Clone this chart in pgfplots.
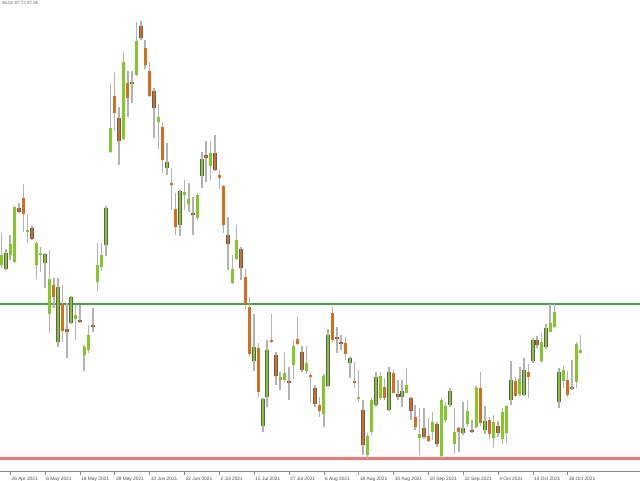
\documentclass[border=0pt]{standalone}
\usepackage{pgfplots}
\pgfplotsset{compat=1.18}
\usepackage{pgfplotstable}
\usepackage{fontspec}
\setmainfont{Liberation Sans}
\definecolor{bull}{RGB}{130,200,40}
\definecolor{bear}{RGB}{214,110,30}
\definecolor{wickc}{RGB}{178,178,178}
\definecolor{edgec}{RGB}{95,95,95}
\definecolor{levelg}{RGB}{60,170,60}
\definecolor{levelr}{RGB}{250,115,115}
% k open high low close  (bullish candles)
\pgfplotstableread{
k o h l c
0 215 247 212 225
1 211 231 210 227
2 225 245 220 236
3 218 274 217 273
6 248 266 237 250
8 215 239 201 237
9 225 233 208 227
10 217 227 192 226
11 166 230 147 201
13 138 202 133 193
16 157 184 156 183
17 161 175 140 165
19 125 135 109 133
20 130 155 127 145
22 198 237 189 215
23 213 237 209 225
24 235 274 224 272
25 328 396 327 352
28 341 428 340 418
30 396 409 377 398
31 405 458 404 439
36 358 376 331 363
38 312 337 305 318
41 255 290 244 289
42 285 300 270 288
43 276 297 268 281
45 262 287 260 285
46 304 328 292 321
48 314 339 300 327
53 197 225 196 211
54 221 255 220 240
58 119 166 109 133
60 54 82 48 81
61 83 140 73 130
64 100 108 90 103
65 100 128 98 107
67 115 140 101 134
70 109 134 106 117
74 66 106 53 104
75 94 151 93 145
80 117 123 102 122
82 81 110 78 83
84 25 47 21 44
85 48 82 45 80
86 75 108 73 103
87 82 108 80 104
89 70 113 69 108
92 83 100 73 89
93 87 112 87 95
96 42 72 25 46
99 48 68 40 58
101 24 82 23 80
102 60 78 58 74
103 75 92 73 89
104 36 72 26 48
106 47 78 45 52
107 56 80 53 69
109 53 94 52 92
111 50 74 46 59
113 42 65 33 58
115 41 72 36 68
116 47 75 37 74
117 80 119 75 100
119 86 113 84 101
120 85 122 84 110
122 119 142 117 140
124 119 147 117 138
125 133 156 131 152
126 148 176 148 157
127 153 177 152 168
128 78 112 72 108
129 99 114 92 110
131 91 120 90 93
132 98 138 92 136
133 127 145 127 130
}\bulls
% k open high low close  (bearish candles)
\pgfplotstableread{
k o h l c
4 272 277 267 268
5 282 296 248 266
7 252 254 240 241
12 195 202 172 183
14 176 195 138 149
15 151 177 122 148
18 160 175 157 158
21 155 172 148 153
26 384 407 350 367
27 362 373 315 339
29 397 409 363 382
32 454 459 440 442
33 432 440 411 415
34 409 418 383 384
35 389 392 342 372
37 353 358 307 320
39 297 312 270 295
40 271 287 245 253
44 267 283 245 265
47 325 339 298 322
49 327 345 309 310
50 305 310 291 302
51 294 295 247 255
52 245 263 210 236
55 231 233 200 212
56 203 211 171 175
57 173 183 124 126
59 132 137 83 88
62 140 166 137 138
63 125 128 95 104
66 99 113 80 97
68 141 163 135 136
69 128 134 108 110
71 105 107 77 103
72 92 95 73 76
73 75 83 63 69
76 167 173 138 140
77 143 153 127 141
78 138 145 130 136
79 137 143 120 126
81 99 118 92 97
83 70 80 25 35
88 93 102 80 82
90 107 110 87 87.5
91 86 100 80 83
94 82 83 60 69
95 63 75 50 53
97 52 72 41 43
98 44 62 38 39
100 56 58 33 36
105 52 53 28 48
108 50 60 47 48
110 92 108 54 57
112 60 63 41 46
114 54 59 43 47
118 99 103 83 84
121 108 116 82 103
123 140 144 132 135
130 100 109 83 85
}\bears
\pgfplotstableread{
x y
-1 176.5
147 176.5
}\levelgreen
\pgfplotstableread{
x y
-1 21.5
147 21.5
}\levelred
\begin{document}
\begin{tikzpicture}[x=1pt,y=1pt]
\path[use as bounding box] (0,0) rectangle (640,480);
\begin{axis}[
  at={(0pt,8.5pt)}, anchor=south west,
  scale only axis, width=640pt, height=471.5pt,
  xmin=-0.3444, xmax=146.613, ymin=8.5, ymax=480,
  axis x line=bottom, axis y line=none,
  axis line style={draw=black!45, -, line width=0.5pt},
  ytick=\empty,
  xtick={-6,2,10,18,26,34,42,50,58,66,74,82,90,98,106,114,122,130},
  xticklabels={14 Apr 2021,26 Apr 2021,6 May 2021,18 May 2021,28 May 2021,10 Jun 2021,22 Jun 2021,2 Jul 2021,15 Jul 2021,27 Jul 2021,6 Aug 2021,18 Aug 2021,30 Aug 2021,10 Sep 2021,22 Sep 2021,4 Oct 2021,14 Oct 2021,26 Oct 2021},
  tick align=outside, major tick length=3pt,
  tick style={draw=black!45, line width=0.5pt},
  xticklabel style={anchor=north west, inner sep=0pt, xshift=1.2pt, yshift=-2pt,
    font=\fontsize{4.8}{5.5}\selectfont, text=black!70},
  clip=true,
]
% levels (drawn first, under the candles)
\addplot[color=levelg, line width=2pt, mark=none, solid] table[x=x, y=y] {\levelgreen};
\addplot[color=levelr, line width=3pt, mark=none, solid] table[x=x, y=y] {\levelred};
% wicks
\addplot[wickc, line width=1.5pt, quiver={u=0, v={\thisrow{h}-\thisrow{l}}}] table[x=k, y=l] {\bulls};
\addplot[wickc, line width=1.5pt, quiver={u=0, v={\thisrow{h}-\thisrow{l}}}] table[x=k, y=l] {\bears};
% body outlines
\addplot[edgec, line width=3.4pt, quiver={u=0, v={\thisrow{c}-\thisrow{o}+0.8}}] table[x=k, y expr=\thisrow{o}-0.4] {\bulls};
\addplot[edgec, line width=3.4pt, quiver={u=0, v={\thisrow{o}-\thisrow{c}+0.8}}] table[x=k, y expr=\thisrow{c}-0.4] {\bears};
% bodies
\addplot[bull, line width=2.6pt, quiver={u=0, v={\thisrow{c}-\thisrow{o}}}] table[x=k, y=o] {\bulls};
\addplot[bear, line width=2.6pt, quiver={u=0, v={\thisrow{o}-\thisrow{c}}}] table[x=k, y=c] {\bears};
\end{axis}
\node[anchor=north west, inner sep=0pt, font=\fontsize{4.5}{5}\selectfont, text=black!55] at (2,478.5) {86.52 87.72 87.85};
\end{tikzpicture}
\end{document}
